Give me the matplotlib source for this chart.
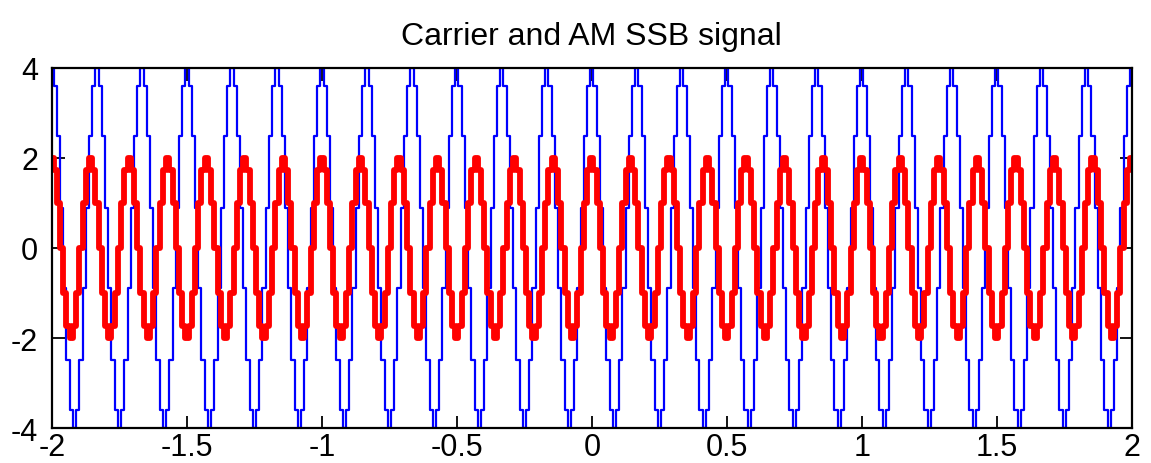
import numpy as np
import matplotlib
matplotlib.use('Agg')
from matplotlib import pyplot as plt

carrier_period = [4.0, 3.6, 2.49, 0.89, -0.89, -2.49, -3.6,
                  -4.0, -3.6, -2.49, -0.89, 0.89, 2.49, 3.6]   # 6 Hz, 14 steps
ssb_period = [2.0, 1.73, 1.0, 0.0, -1.0, -1.73,
              -2.0, -1.73, -1.0, 0.0, 1.0, 1.73]               # 7 Hz, 12 steps
n_carrier = 24   # periods across the window
n_ssb = 28
t_start, t_end = -2, 2

carrier = np.append(np.tile(carrier_period, n_carrier), carrier_period[0])
ssb = np.append(np.tile(ssb_period, n_ssb), ssb_period[0])
t = np.linspace(t_start, t_end, len(carrier))

plt.rcParams['font.family'] = ['Liberation Sans', 'DejaVu Sans']

fig = plt.figure(figsize=(11.51, 4.64), dpi=100)
ax = fig.add_axes([0.0452, 0.075, 0.938, 0.777])

ax.plot(t, carrier, color='#0000ff', lw=1.6, drawstyle='steps-mid')
ax.plot(t, ssb, color='#ff0000', lw=4.2, drawstyle='steps-mid')

ax.set_xlim(-2, 2)
ax.set_ylim(-4, 4)
ax.set_xticks(np.arange(-2, 2.01, 0.5))
ax.set_xticklabels(['-2', '-1.5', '-1', '-0.5', '0', '0.5', '1', '1.5', '2'])
ax.set_yticks([-4, -2, 0, 2, 4])
ax.set_yticklabels(['-4', '-2', '0', '2', '4'])
ax.tick_params(direction='in', length=9, width=1.3, labelsize=22,
               top=True, right=True, colors='black')
ax.tick_params(axis='x', pad=3)
ax.tick_params(axis='y', pad=10)
for s in ax.spines.values():
    s.set_linewidth(1.6)

ax.set_title('Carrier and AM SSB signal', fontsize=23, pad=17)

fig.savefig('out.png', dpi=100)
